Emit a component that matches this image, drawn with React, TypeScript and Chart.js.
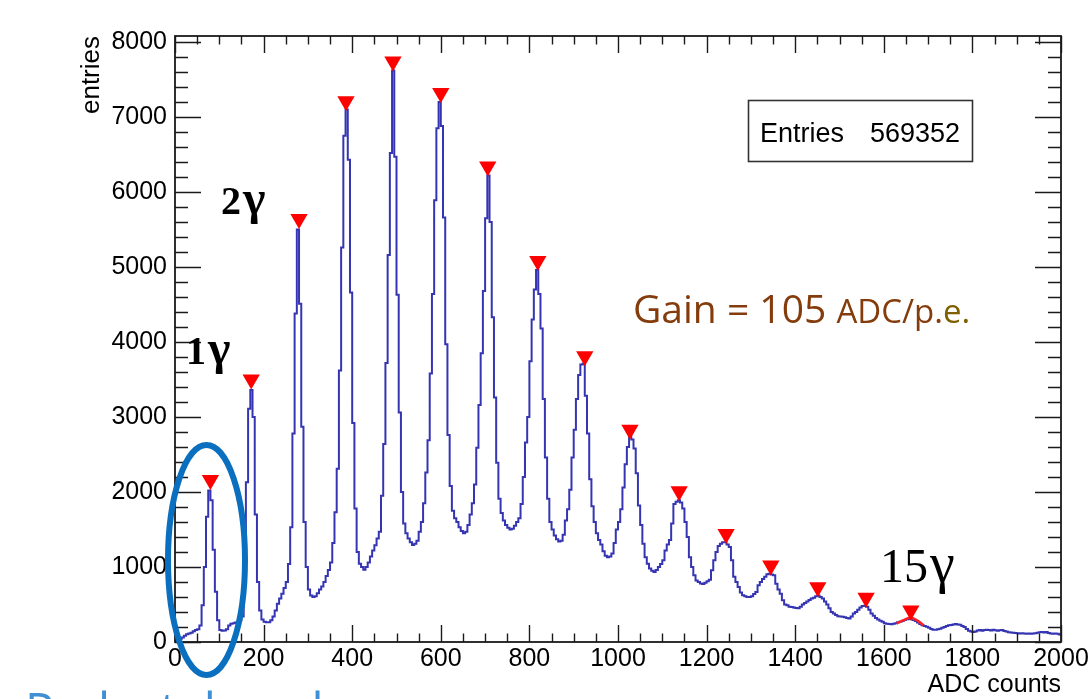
import React, { useEffect, useRef } from "react";
import { Chart, registerables } from "chart.js";

Chart.register(...registerables);

// Histogram: 400 bins of 5 ADC counts from 0 to 2000
const binWidth = 5;
const counts0000 = [5, 20, 40, 60, 85, 105, 115, 125, 145, 160, 170, 220, 490, 1000, 1670, 2020, 1890, 1230, 670, 290, 160, 150, 155, 170, 220, 245, 250, 260, 270, 290, 340, 1040, 2130, 3110, 3360, 3000, 1700, 800, 420, 300];
const counts0200 = [270, 262, 265, 290, 340, 420, 510, 580, 644, 720, 800, 1040, 1530, 2780, 4380, 5500, 4510, 2870, 1600, 1000, 700, 620, 600, 610, 650, 700, 740, 800, 880, 960, 1060, 1320, 1730, 2310, 3620, 5260, 6750, 7100, 6430, 4660];
const counts0400 = [2920, 1780, 1200, 1045, 1000, 965, 1000, 1060, 1140, 1220, 1290, 1380, 1470, 1950, 2640, 3720, 5160, 6520, 7620, 6470, 4630, 3060, 2000, 1580, 1450, 1380, 1330, 1295, 1310, 1350, 1470, 1600, 1850, 2260, 2690, 3580, 4640, 5890, 6850, 7200];
const counts0600 = [6880, 5660, 3970, 2760, 2080, 1750, 1650, 1600, 1530, 1480, 1450, 1470, 1560, 1700, 1850, 2100, 2590, 3160, 3850, 4680, 5650, 6220, 5600, 4330, 3260, 2390, 1910, 1720, 1620, 1560, 1525, 1500, 1510, 1550, 1600, 1650, 1840, 2200, 2660, 3000];
const counts0800 = [3745, 4300, 4700, 4960, 4640, 4180, 3240, 2460, 1910, 1600, 1500, 1420, 1370, 1340, 1350, 1430, 1620, 1770, 2030, 2460, 2830, 3240, 3560, 3700, 3710, 3285, 2780, 2170, 1810, 1600, 1450, 1360, 1300, 1210, 1150, 1130, 1140, 1180, 1320, 1500];
const counts1000 = [1600, 1770, 2060, 2370, 2600, 2740, 2700, 2580, 2250, 1820, 1560, 1310, 1130, 1045, 980, 950, 933, 960, 1000, 1040, 1090, 1220, 1300, 1360, 1580, 1840, 1870, 1890, 1860, 1780, 1600, 1400, 1130, 1000, 890, 820, 800, 780, 775, 790];
const counts1200 = [810, 830, 956, 1090, 1200, 1280, 1311, 1330, 1330, 1300, 1267, 1089, 870, 800, 733, 660, 622, 610, 600, 600, 610, 640, 667, 756, 800, 840, 870, 905, 911, 900, 889, 778, 700, 644, 556, 500, 489, 470, 467, 460];
const counts1400 = [455, 450, 470, 500, 520, 540, 560, 580, 590, 610, 620, 600, 580, 540, 500, 450, 400, 380, 360, 345, 340, 338, 330, 320, 315, 340, 380, 400, 430, 460, 480, 485, 470, 430, 380, 350, 320, 300, 285, 270];
const counts1600 = [250, 245, 240, 238, 245, 250, 262, 270, 280, 295, 305, 310, 305, 295, 280, 260, 240, 225, 215, 205, 190, 172, 165, 165, 170, 178, 190, 200, 215, 222, 228, 235, 240, 235, 230, 213, 200, 175, 150, 140];
const counts1800 = [135, 140, 155, 160, 150, 160, 165, 160, 155, 162, 158, 150, 156, 160, 148, 140, 130, 128, 122, 120, 118, 115, 117, 112, 110, 113, 111, 115, 118, 125, 130, 133, 128, 135, 120, 112, 110, 115, 110, 100];

// Peaks found (red down-triangles)
const peakAdc = [80, 172, 280, 386, 492, 600, 706, 819, 925, 1027, 1138, 1244, 1345, 1451, 1560, 1661];
const peakMarkerY = [2160, 3500, 5640, 7210, 7740, 7320, 6340, 5080, 3810, 2830, 2010, 1440, 1020, 730, 590, 420];

// Red fit around the last peak
const fitAdc = [1629, 1645, 1660, 1675, 1690];
const fitY = [250, 292, 322, 288, 222];

// Axis ticks
const xMajorTicks = [0, 200, 400, 600, 800, 1000, 1200, 1400, 1600, 1800, 2000];
const yMajorTicks = [0, 1000, 2000, 3000, 4000, 5000, 6000, 7000, 8000];

const counts = [
  ...counts0000, ...counts0200, ...counts0400, ...counts0600, ...counts0800,
  ...counts1000, ...counts1200, ...counts1400, ...counts1600, ...counts1800,
];

const SANS = '"Liberation Sans", Arial, sans-serif';

const decor = {
  id: "rootDecor",
  afterDatasetsDraw(chart: any) {
    const { ctx, chartArea: a, scales } = chart;
    const xs = scales.x;
    const ys = scales.y;
    ctx.save();
    ctx.strokeStyle = "#1a1a1a";
    ctx.lineWidth = 1.4;
    ctx.beginPath();
    for (let i = 0; i < xMajorTicks.length; i++) {
      const major = xMajorTicks[i];
      for (let k = 0; k < 4; k++) {
        const v = major + k * 50;
        if (v > xMajorTicks[xMajorTicks.length - 1]) break;
        const px = Math.round(xs.getPixelForValue(v)) + 0.5;
        const len = k === 0 ? 17 : 8.5;
        ctx.moveTo(px, a.bottom);
        ctx.lineTo(px, a.bottom - len);
        ctx.moveTo(px, a.top);
        ctx.lineTo(px, a.top + len);
      }
    }
    for (let i = 0; i < yMajorTicks.length; i++) {
      const major = yMajorTicks[i];
      for (let k = 0; k < 5; k++) {
        const v = major + k * 200;
        if (v > yMajorTicks[yMajorTicks.length - 1]) break;
        const py = Math.round(ys.getPixelForValue(v)) + 0.5;
        const len = k === 0 ? 26 : 13;
        ctx.moveTo(a.left, py);
        ctx.lineTo(a.left + len, py);
        ctx.moveTo(a.right, py);
        ctx.lineTo(a.right - len, py);
      }
    }
    ctx.stroke();
    ctx.lineWidth = 1.8;
    ctx.strokeRect(a.left, a.top, a.right - a.left, a.bottom - a.top);
    ctx.restore();
  },
  afterDraw(chart: any) {
    const { ctx } = chart;
    ctx.save();
    // stats box
    ctx.strokeStyle = "#333";
    ctx.lineWidth = 1.6;
    ctx.strokeRect(748.5, 100.5, 224, 61);
    ctx.fillStyle = "#000";
    ctx.font = `27px ${SANS}`;
    ctx.textBaseline = "alphabetic";
    ctx.textAlign = "left";
    ctx.fillText("Entries", 760, 142);
    ctx.textAlign = "right";
    ctx.fillText("569352", 960, 142);

    // gain text
    ctx.textAlign = "left";
    ctx.fillStyle = "#843c0c";
    ctx.font = '39px "Open Sans", "Noto Sans", sans-serif';
    const part1 = "Gain = 105 ";
    ctx.fillText(part1, 633, 323);
    let gx = 633 + ctx.measureText(part1).width;
    ctx.font = '33px "Open Sans", "Noto Sans", sans-serif';
    ctx.fillText("ADC/p.", gx, 323);
    gx += ctx.measureText("ADC/p.").width;
    ctx.fillStyle = "#7f6000";
    ctx.fillText("e.", gx, 323);

    // photon labels
    ctx.fillStyle = "#000";
    const label = (num: string, x: number, y: number, bold: boolean, size: number, gSize: number) => {
      ctx.font = `${bold ? "bold " : ""}${size}px "Liberation Serif", serif`;
      ctx.fillText(num, x, y);
      const w = ctx.measureText(num).width;
      ctx.font = `${bold ? "bold " : ""}${gSize}px "Liberation Serif", serif`;
      ctx.fillText("γ", x + w + 2, y);
    };
    label("1", 186, 364, true, 40, 48);
    label("2", 221, 214, true, 40, 48);
    label("15", 880, 582, false, 48, 56);

    // pedestal ellipse
    ctx.beginPath();
    ctx.ellipse(206.5, 560, 38.5, 115, 0, 0, Math.PI * 2);
    ctx.lineWidth = 6;
    ctx.strokeStyle = "#0b6fbf";
    ctx.stroke();

    // pedestal label (mostly below the visible area)
    ctx.fillStyle = "#3f8fd4";
    ctx.font = '48px "Open Sans", "Noto Sans", sans-serif';
    ctx.fillText("Pedestal peak", 25, 727);
    ctx.restore();
  },
};

export default function App() {
  const ref = useRef<HTMLCanvasElement>(null);
  useEffect(() => {
    const canvas = ref.current;
    if (!canvas) return;
    const histPoints = counts.map((c, i) => ({ x: i * binWidth, y: c }));
    histPoints.push({ x: counts.length * binWidth, y: counts[counts.length - 1] });
    const chart = new Chart(canvas, {
      type: "line",
      data: {
        datasets: [
          {
            label: "peaks",
            data: peakAdc.map((x, i) => ({ x, y: peakMarkerY[i] })),
            showLine: false,
            pointStyle: "triangle",
            rotation: 180,
            pointRadius: 10,
            pointBackgroundColor: "#ff0000",
            pointBorderColor: "#ff0000",
            pointBorderWidth: 0,
            order: 0,
          } as any,
          {
            label: "fit",
            data: fitAdc.map((x, i) => ({ x, y: fitY[i] })),
            borderColor: "#ff2020",
            borderWidth: 2.5,
            pointRadius: 0,
            tension: 0.4,
            order: 1,
          },
          {
            label: "hist",
            data: histPoints,
            stepped: true,
            borderColor: "#3535b3",
            borderWidth: 2,
            pointRadius: 0,
            fill: false,
            order: 2,
          },
        ],
      },
      options: {
        responsive: false,
        animation: false,
        events: [],
        layout: { padding: { left: 0, right: 27, top: 36, bottom: 0 } },
        plugins: { legend: { display: false }, tooltip: { enabled: false } },
        scales: {
          x: {
            type: "linear",
            min: 0,
            max: 2000,
            grid: { display: false, drawTicks: false },
            border: { display: false },
            afterBuildTicks: (s: any) => {
              s.ticks = xMajorTicks.map((v) => ({ value: v }));
            },
            ticks: {
              autoSkip: false,
              maxRotation: 0,
              padding: 2,
              color: "#000",
              font: { family: SANS, size: 25 },
              callback: (v: any) => String(v),
            },
            title: {
              display: true,
              text: "ADC counts",
              align: "end",
              color: "#000",
              padding: 0,
              font: { family: SANS, size: 25, lineHeight: 1.1 },
            },
            afterFit: (s: any) => {
              s.height = 57;
              s.paddingLeft = 0;
              s.paddingRight = 0;
            },
          },
          y: {
            type: "linear",
            min: 0,
            max: 8080,
            grid: { display: false, drawTicks: false },
            border: { display: false },
            afterBuildTicks: (s: any) => {
              s.ticks = yMajorTicks.map((v) => ({ value: v }));
            },
            ticks: {
              autoSkip: false,
              padding: 8,
              color: "#000",
              font: { family: SANS, size: 25 },
              callback: (v: any) => String(v),
            },
            title: {
              display: true,
              text: "entries",
              align: "end",
              color: "#000",
              padding: { top: 78, bottom: 0 },
              font: { family: SANS, size: 26, lineHeight: 1.1 },
            },
            afterFit: (s: any) => {
              s.width = 175;
              s.paddingTop = 0;
              s.paddingBottom = 0;
            },
          },
        },
      } as any,
      plugins: [decor],
    });
    return () => chart.destroy();
  }, []);
  return (
    <div style={{ position: "absolute", left: 0, top: 0, width: 1088, height: 699, overflow: "hidden", background: "#fff" }}>
      <canvas ref={ref} width={1088} height={699} style={{ display: "block" }} />
    </div>
  );
}
